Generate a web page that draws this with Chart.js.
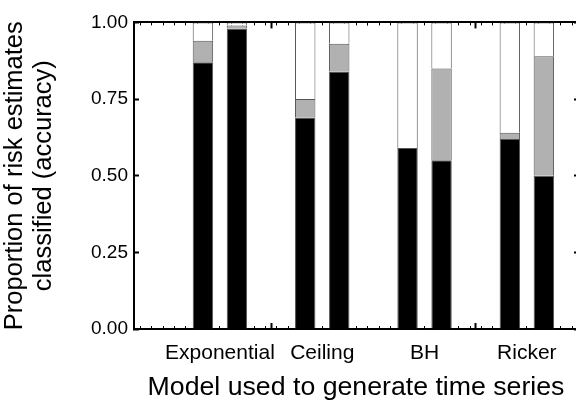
<!DOCTYPE html>
<html>
<head>
<meta charset="utf-8">
<script src="https://cdn.jsdelivr.net/npm/chart.js@4"></script>
<style>
  html, body { margin: 0; padding: 0; overflow: hidden; background: #fff; }
</style>
</head>
<body>
<canvas id="myChart" width="578" height="402"></canvas>
<script>
"use strict";

const categories = ["Exponential", "Ceiling", "BH", "Ricker"];
const yTicks = [0, 0.25, 0.5, 0.75, 1];

// first bar in each pair (black / grey / white part)
const darkA = [0.87, 0.69, 0.59, 0.62];
const greyA = [0.07, 0.06, 0.0, 0.02];
const clearA = [0.06, 0.25, 0.41, 0.36];
// second bar in each pair
const darkB = [0.98, 0.84, 0.55, 0.5];
const greyB = [0.01, 0.09, 0.3, 0.39];
const clearB = [0.01, 0.07, 0.15, 0.11];

const xMin = 0.16;
const xMax = 4.5;
const font = "'Liberation Sans', Arial, sans-serif";

function points(vals) {
  return vals.map((v, i) => ({ x: i + 1, y: v }));
}

function bar(vals, fill, stack) {
  return {
    data: points(vals),
    backgroundColor: fill,
    borderColor: "#555",
    borderWidth: 1,
    stack: stack,
    categoryPercentage: 0.665,
    barPercentage: 0.6,
  };
}

// extra axes that only draw the little inward tick marks
function tickAxis(pos, len, width, step, weight) {
  return {
    type: "linear",
    position: pos,
    min: xMin,
    max: xMax,
    bounds: "data",
    offset: false,
    weight: weight,
    border: { display: false },
    grid: { drawOnChartArea: false, tickLength: len, tickWidth: width, tickColor: "#000" },
    ticks: { display: false },
    afterBuildTicks: (s) => {
      let t = [];
      for (let v = 0.5; v <= xMax + 1e-6; v += step) t.push({ value: v });
      for (let v = 0.5 - step; v >= xMin; v -= step) t.push({ value: v });
      s.ticks = t;
    },
    afterFit: (s) => { s.height = 0; },
  };
}

const ctx = document.getElementById("myChart");

new Chart(ctx, {
  type: "bar",
  data: {
    datasets: [
      bar(darkA, "#000", "a"),
      bar(greyA, "#b1b1b1", "a"),
      bar(clearA, "#fff", "a"),
      bar(darkB, "#000", "b"),
      bar(greyB, "#b1b1b1", "b"),
      bar(clearB, "#fff", "b"),
    ],
  },
  options: {
    responsive: false,
    animation: false,
    layout: { padding: { top: 18, left: 0, right: 0, bottom: 0 } },
    plugins: { legend: { display: false }, tooltip: { enabled: false } },
    scales: {
      x: {
        type: "linear",
        position: "bottom",
        min: xMin,
        max: xMax,
        bounds: "data",
        offset: false,
        weight: 0,
        border: { display: true, color: "#000", width: 2 },
        grid: { display: false, drawTicks: false, offset: false },
        ticks: {
          autoSkip: false,
          maxRotation: 0,
          padding: 12,
          color: "#000",
          font: { family: font, size: 21 },
          callback: (v) => categories[Math.round(v) - 1],
        },
        afterBuildTicks: (s) => {
          s.ticks = categories.map((c, i) => ({ value: i + 1 }));
        },
        title: {
          display: true,
          text: "Model used to generate time series",
          color: "#000",
          font: { family: font, size: 26.7 },
          padding: { top: 0, bottom: -2 },
        },
        afterFit: (s) => { s.height = 73; },
      },
      xBotMinor: tickAxis("bottom", -3, 1, 1 / 9, -2),
      xBotMajor: tickAxis("bottom", -6, 2, 2, -1),
      xTopMinor: Object.assign(tickAxis("top", -3, 1, 1 / 9, 0), {
        border: { display: true, color: "#000", width: 2 },
      }),
      xTopMajor: tickAxis("top", -6, 2, 2, 1),
      y: {
        stacked: true,
        min: 0,
        max: 1,
        position: "left",
        border: { display: true, color: "#000", width: 2 },
        grid: { drawOnChartArea: false, tickLength: -5, tickWidth: 2, tickColor: "#000" },
        ticks: {
          padding: 11,
          color: "#000",
          font: { family: font, size: 19 },
          callback: (v) => v.toFixed(2),
        },
        afterBuildTicks: (s) => {
          s.ticks = yTicks.map((v) => ({ value: v }));
        },
        title: {
          display: true,
          text: ["Proportion of risk estimates", "classified (accuracy)"],
          color: "#000",
          font: { family: font, size: 25.5, lineHeight: 1.15 },
          padding: { top: 0, bottom: 0 },
        },
        afterFit: (s) => { s.width = 134; },
      },
      yRight: {
        min: 0,
        max: 1,
        position: "right",
        border: { display: true, color: "#000", width: 2 },
        grid: { drawOnChartArea: false, tickLength: -4, tickWidth: 2, tickColor: "#000" },
        ticks: { display: false },
        afterBuildTicks: (s) => {
          s.ticks = yTicks.map((v) => ({ value: v }));
        },
        afterFit: (s) => { s.width = 0; },
      },
    },
  },
});
</script>
</body>
</html>
